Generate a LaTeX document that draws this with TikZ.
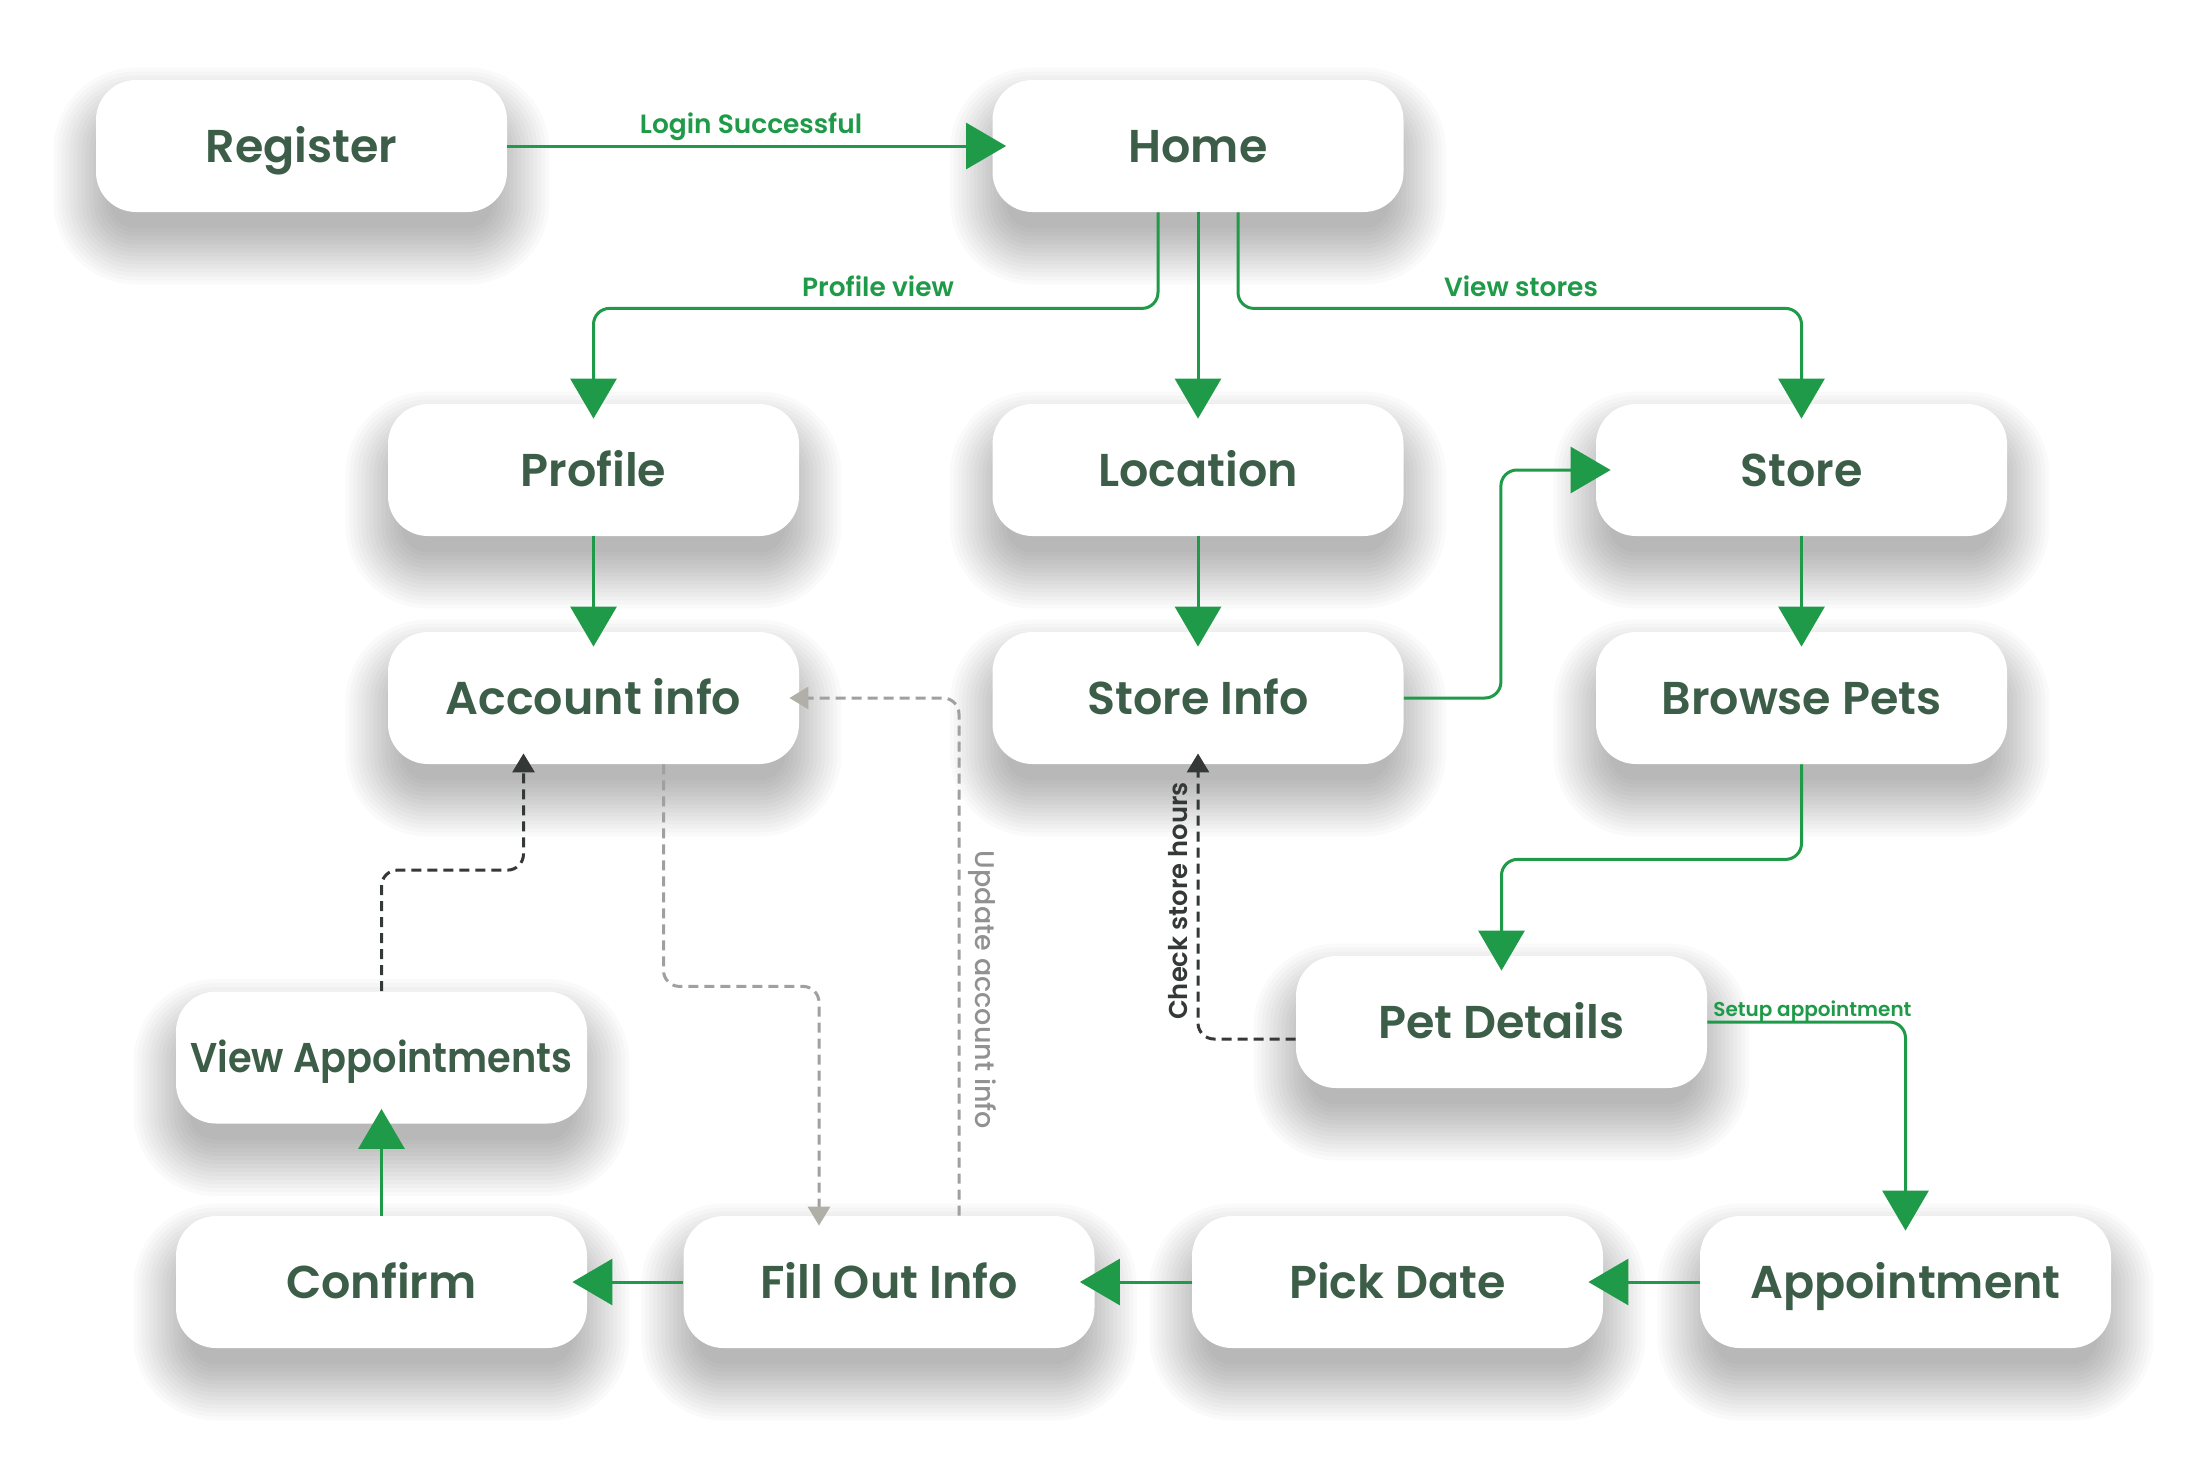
\documentclass[tikz,border=0pt]{standalone}
\usepackage{fontspec}
\newfontfamily\nodefont{Poppins SemiBold}
\newfontfamily\medfont{Poppins Medium}
\usetikzlibrary{arrows.meta}
\definecolor{nodetext}{RGB}{60,94,72}
\definecolor{flowgreen}{RGB}{31,154,72}
\definecolor{darkdash}{RGB}{52,56,54}
\definecolor{graydash}{RGB}{160,160,160}
\definecolor{graytip}{RGB}{176,176,168}
\definecolor{graytext}{RGB}{145,145,145}
\pgfdeclarelayer{background}
\pgfsetlayers{background,main}
\tikzset{
  box/.style={fill=white, rounded corners=20pt, minimum width=205.5pt, minimum height=66pt,
    inner sep=0pt, text=nodetext, text height=16.2pt, text depth=0pt,
    font=\nodefont\fontsize{23}{28}\selectfont},
  flow/.style={draw=flowgreen, line width=1.5pt, rounded corners=8pt,
    -{Triangle[length=20pt,width=23pt,color=flowgreen]}},
  dashdark/.style={draw=darkdash, line width=1.5pt, rounded corners=8pt,
    dash pattern=on 5pt off 3pt, -{Triangle[length=9.5pt,width=11pt,color=darkdash]}},
  dashgray/.style={draw=graydash, line width=1.5pt, rounded corners=8pt,
    dash pattern=on 5pt off 3pt, -{Triangle[length=9.5pt,width=11pt,color=graytip]}},
  elabel/.style={text=flowgreen, inner sep=0pt, font=\nodefont\fontsize{13.2}{16}\selectfont},
  elabelsmall/.style={text=flowgreen, inner sep=0pt, font=\nodefont\fontsize{10}{12}\selectfont},
}
\newcommand\castshadow[1]{%
  \foreach \e in {-14,-10,...,44}{%
    \pgfmathsetmacro\rr{max(20+\e/2,2)}%
    \fill[black,opacity=0.019,rounded corners=\rr pt]
      ([shift={(-\e,30-\e)}]#1.north west) rectangle ([shift={(\e,30+\e)}]#1.south east);
  }}
\begin{document}
\begin{tikzpicture}[x=0.5pt,y=-0.5pt]
\useasboundingbox (0,0) rectangle (2208,1464);
\begin{pgfonlayer}{background}
\fill[white] (0,0) rectangle (2208,1464);
\end{pgfonlayer}

\node[box] (register) at (301.5,146) {Register};
\node[box] (home) at (1198,146) {Home};
\node[box] (profile) at (593.5,470) {Profile};
\node[box] (location) at (1198,470) {Location};
\node[box] (store) at (1801.5,470) {Store};
\node[box] (account) at (593.5,698) {Account info};
\node[box] (storeinfo) at (1198,698) {Store Info};
\node[box] (browse) at (1801.5,698) {Browse Pets};
\node[box, text height=14.6pt, font=\nodefont\fontsize{20.8}{24}\selectfont] (viewapp) at (381.5,1057.5) {\scalebox{0.92}[1]{View Appointments}};
\node[box] (petdetails) at (1501.5,1022) {Pet Details};
\node[box] (confirm) at (381.5,1282) {Confirm};
\node[box] (fill) at (889,1282) {Fill Out Info};
\node[box] (pickdate) at (1397.5,1282) {Pick Date};
\node[box] (appointment) at (1905.5,1282) {Appointment};

\begin{pgfonlayer}{background}
\foreach \n in {register,home,profile,location,store,account,storeinfo,browse,viewapp,petdetails,confirm,fill,pickdate,appointment}{\castshadow{\n}}
\end{pgfonlayer}

% solid flow
\draw[flow] (register.east) -- ([xshift=7pt]home.west);
\draw[flow] ([xshift=-20pt]home.south) -- ++(0,96) -| ([yshift=-7.5pt]profile.north);
\draw[flow] (home.south) -- ([yshift=-7.5pt]location.north);
\draw[flow] ([xshift=20pt]home.south) -- ++(0,96) -| ([yshift=-7.5pt]store.north);
\draw[flow] (profile.south) -- ([yshift=-7.5pt]account.north);
\draw[flow] (location.south) -- ([yshift=-7.5pt]storeinfo.north);
\draw[flow] (store.south) -- ([yshift=-7.5pt]browse.north);
\draw[flow] (storeinfo.east) -- ++(97,0) |- ([xshift=7.5pt]store.west);
\draw[flow] (browse.south) -- ++(0,95) -| ([yshift=-7.5pt]petdetails.north);
\draw[flow] (petdetails.east) -| ([yshift=-7.5pt]appointment.north);
\draw[flow] (appointment.west) -- ([xshift=-7.5pt]pickdate.east);
\draw[flow] (pickdate.west) -- ([xshift=-7.5pt]fill.east);
\draw[flow] (fill.west) -- ([xshift=-7.5pt]confirm.east);
\draw[flow] (confirm.north) -- ([yshift=7.5pt]viewapp.south);

% dashed
\draw[dashdark] (viewapp.north) -- ++(0,-121) -| ([xshift=-35pt,yshift=5.5pt]account.south);
\draw[dashgray] ([xshift=35pt]account.south) -- ++(0,222) -| ([xshift=-35pt,yshift=-5pt]fill.north);
\draw[dashgray] ([xshift=35pt]fill.north) |- ([xshift=-5pt]account.east);
\draw[dashdark] ([yshift=-8.5pt]petdetails.west) -| ([yshift=5.5pt]storeinfo.south);

% labels
\node[elabel, anchor=base] (lbllogin) at (751,133) {Login Successful};
\node[elabel, anchor=base] (lblprofile) at (878,296) {Profile view};
\node[elabel, anchor=base] (lblstores) at (1521,296) {View stores};
\node[elabelsmall, anchor=base west] (lblsetup) at (1713,1016) {Setup appointment};
\node[rotate=-90, inner sep=0pt, text=graytext, font=\medfont\fontsize{13.5}{16}\selectfont] (lblupdate) at (982,990) {Update account info};
\node[rotate=90, inner sep=0pt, text=darkdash, font=\nodefont\fontsize{12.9}{15}\selectfont] (lblcheck) at (1178,901) {Check store hours};
\end{tikzpicture}
\end{document}
